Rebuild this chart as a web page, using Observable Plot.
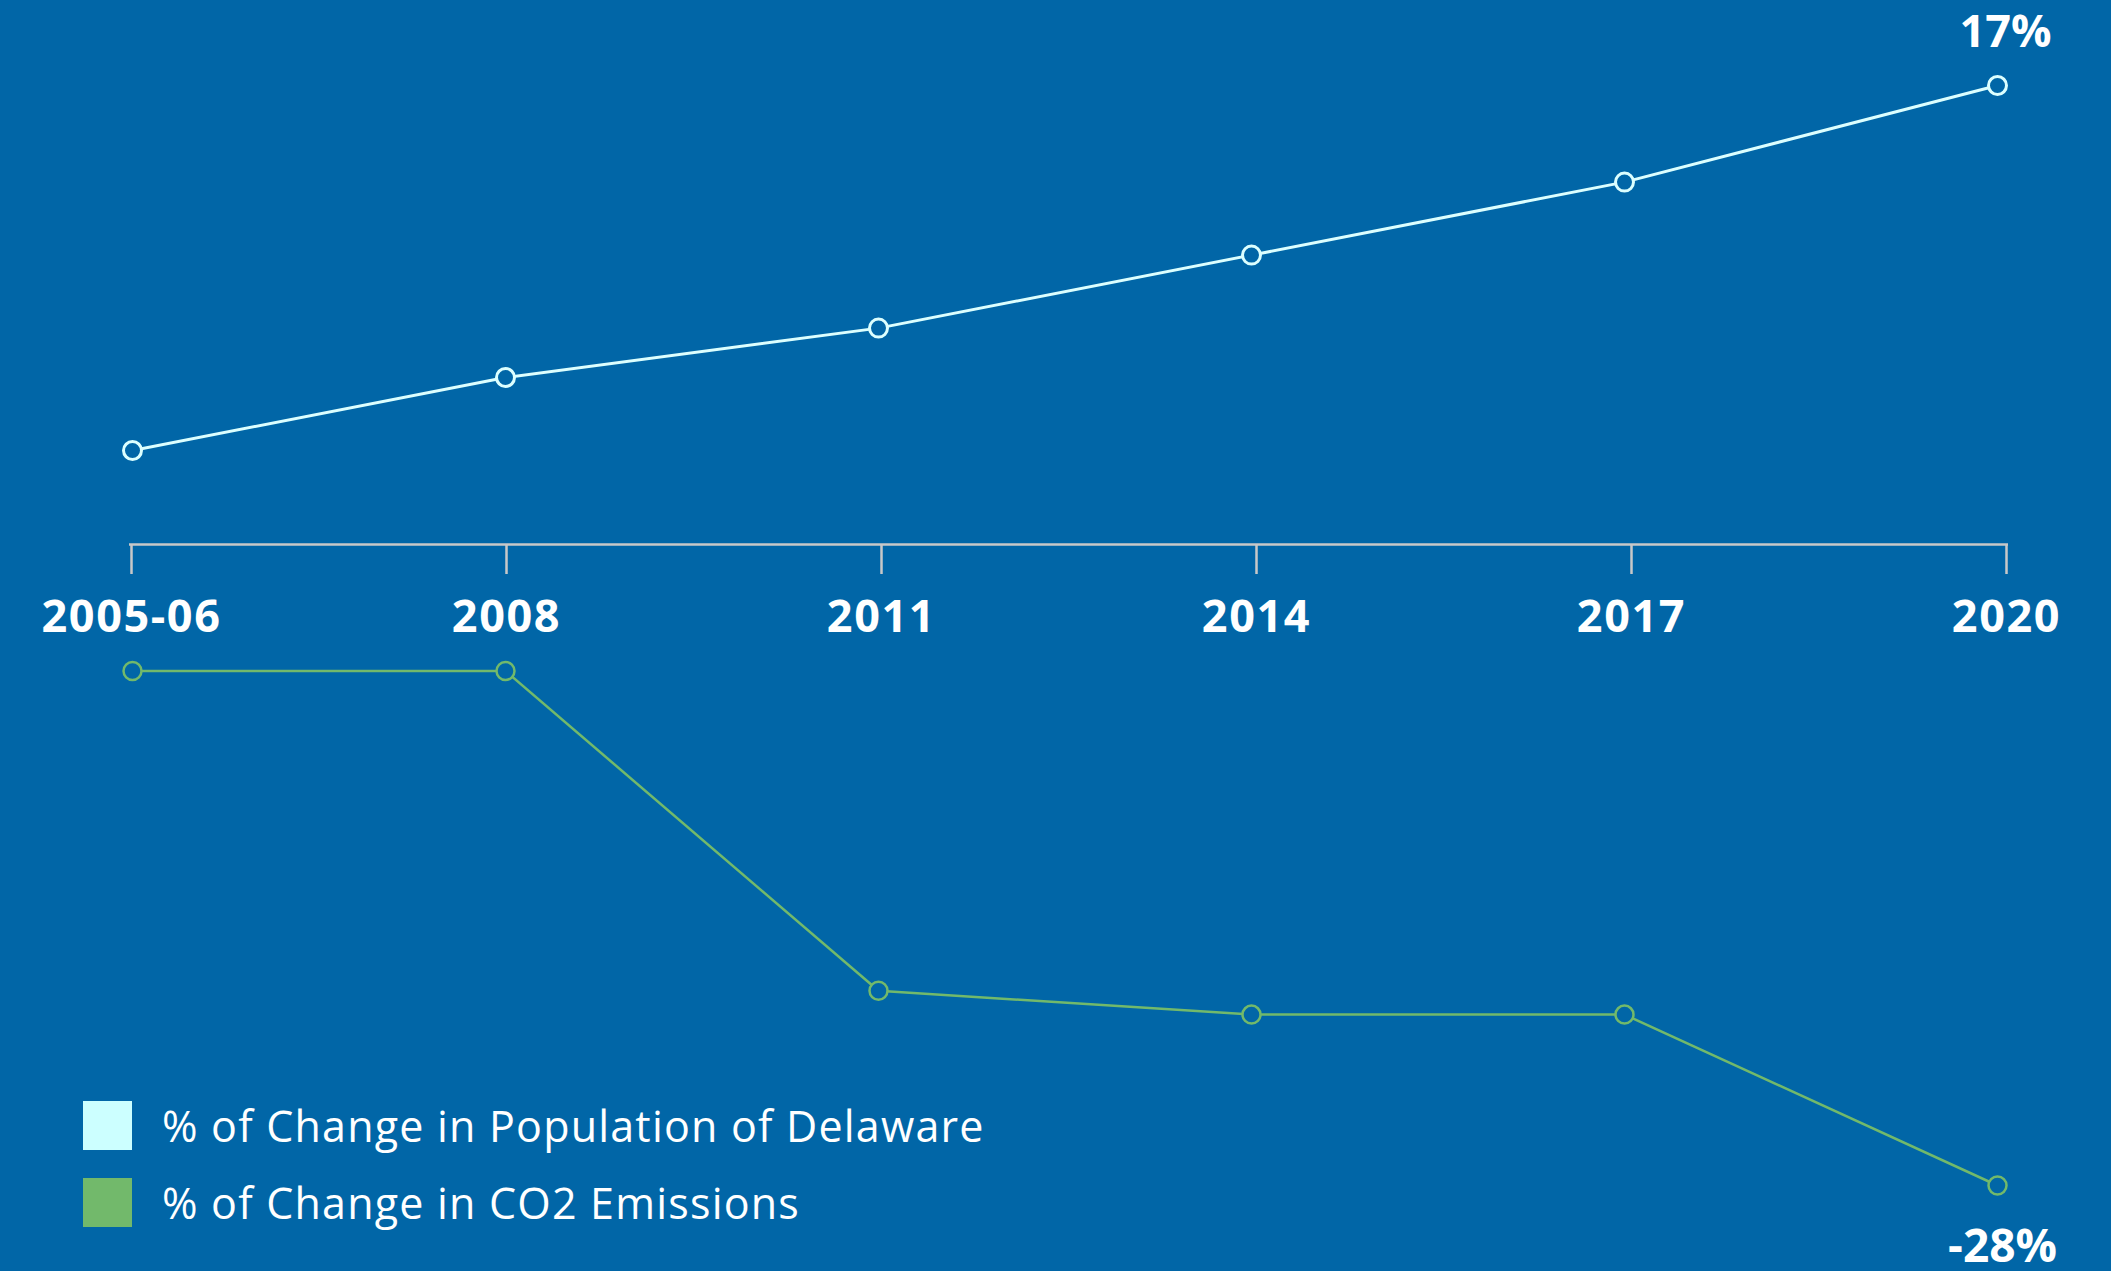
<!DOCTYPE html>
<html>
<head>
<meta charset="utf-8">
<script src="https://cdn.jsdelivr.net/npm/d3@7"></script>
<script src="https://cdn.jsdelivr.net/npm/@observablehq/plot@0.6"></script>
<style>
  html, body { margin: 0; padding: 0; }
  body { width: 2111px; height: 1271px; background: #0166a7; position: relative; overflow: hidden; font-family: "Open Sans", sans-serif; }
  .layer { position: absolute; left: 0; }
  #legend { position: absolute; left: 83px; top: 1101px; z-index: 5; }
  .row { display: flex; align-items: center; height: 49px; margin-bottom: 28px; }
  .sw { width: 49px; height: 49px; margin-right: 30px; }
  .lbl { color: #ffffff; font-size: 43px; font-weight: 500; white-space: nowrap; letter-spacing: 1.2px; }
</style>
</head>
<body>
<div id="topChart" class="layer" style="top:0"></div>
<div id="axisChart" class="layer" style="top:500px"></div>
<div id="bottomChart" class="layer" style="top:640px"></div>
<div id="legend"></div>
<script>
const years = ["2005-06", "2008", "2011", "2014", "2017", "2020"];
const population = [0, 3.4, 5.7, 9.1, 12.5, 17];
const co2 = [0, 0, -17.4, -18.7, -18.7, -28];
const endLabels = ["17%", "-28%"];
const seriesNames = ["% of Change in Population of Delaware", "% of Change in CO2 Emissions"];
const seriesColors = ["#ccffff", "#72b96b"];

const bg = "#0166a7";
const W = 2111;
const font = "'Open Sans', sans-serif";

const popData = years.map((y, i) => ({year: y, value: population[i]}));
const co2Data = years.map((y, i) => ({year: y, value: co2[i]}));

// Top: population
const popChart = Plot.plot({
  width: W, height: 520,
  marginLeft: 132, marginRight: W - 1997, marginTop: 85, marginBottom: 70,
  style: {background: "transparent", fontFamily: font, overflow: "visible"},
  x: {type: "point", domain: years, padding: 0, axis: null},
  y: {domain: [0, 17], axis: null},
  marks: [
    Plot.line(popData, {x: "year", y: "value", stroke: "#dcffff", strokeWidth: 3}),
    Plot.dot(popData, {x: "year", y: "value", r: 9, fill: bg, stroke: "#dcffff", strokeWidth: 3}),
    Plot.text(popData.slice(-1), {x: "year", y: "value", text: () => endLabels[0], dy: -53, dx: 8, fontSize: 45, fontWeight: 700, fill: "white"})
  ]
});
document.getElementById("topChart").appendChild(popChart);

// Axis
const axisChart = Plot.plot({
  width: W, height: 170,
  marginLeft: 129, marginRight: W - 2008, marginTop: 0, marginBottom: 126,
  style: {background: "transparent", fontFamily: font, overflow: "visible", letterSpacing: "1.6px"},
  x: {type: "point", domain: years, padding: 0},
  y: {domain: [0, 1], axis: null},
  marks: [
    Plot.ruleY([0], {stroke: "#c8c8c8", strokeWidth: 2.5}),
    Plot.axisX({tickSize: 30, tickPadding: 26, fontSize: 45, fontWeight: 700, fill: "white", stroke: "#c8c8c8", strokeWidth: 2.5, strokeOpacity: 1, label: null})
  ]
});
document.getElementById("axisChart").appendChild(axisChart);

// Bottom: CO2
const co2Chart = Plot.plot({
  width: W, height: 631,
  marginLeft: 132, marginRight: W - 1997, marginTop: 30.5, marginBottom: 86,
  style: {background: "transparent", fontFamily: font, overflow: "visible"},
  x: {type: "point", domain: years, padding: 0, axis: null},
  y: {domain: [-28, 0], axis: null},
  marks: [
    Plot.line(co2Data, {x: "year", y: "value", stroke: seriesColors[1], strokeWidth: 2.5}),
    Plot.dot(co2Data, {x: "year", y: "value", r: 9, fill: bg, stroke: seriesColors[1], strokeWidth: 2.5}),
    Plot.text(co2Data.slice(-1), {x: "year", y: "value", text: () => endLabels[1], dy: 62, dx: 5, fontSize: 46, fontWeight: 700, fill: "white"})
  ]
});
document.getElementById("bottomChart").appendChild(co2Chart);

// Legend
const legendEl = document.getElementById("legend");
seriesNames.forEach((name, i) => {
  const row = document.createElement("div");
  row.className = "row";
  const sw = document.createElement("div");
  sw.className = "sw";
  sw.style.background = seriesColors[i];
  const lbl = document.createElement("div");
  lbl.className = "lbl";
  lbl.textContent = name;
  row.appendChild(sw);
  row.appendChild(lbl);
  legendEl.appendChild(row);
});
</script>
</body>
</html>
